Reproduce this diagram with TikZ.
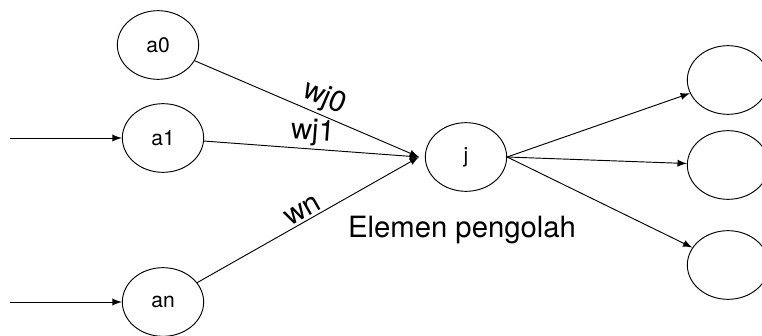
\documentclass[tikz,border=0pt]{standalone}
\usepackage{fontspec}
\setmainfont{TeX Gyre Heros}
\usepackage{tikz}
\usetikzlibrary{arrows,positioning,shapes.geometric}

\begin{document}
\begin{tikzpicture}[x=0.015cm, y=-0.015cm,
    neuron/.style={ellipse, draw=black, minimum width=1.22cm, minimum height=1.03cm, font=\fontsize{9}{10}\selectfont},
    wlabel/.style={sloped, above, inner sep=1pt, font=\fontsize{12.5}{14}\selectfont}]
  \useasboundingbox (0,0) rectangle (762,336);

  \node (a0) [neuron] at (158,45) {a0};
  \node (a1) [neuron] at (163,138) {a1};
  \node (an) [neuron] at (163,302) {an};

  \node (j) [neuron] at (466,157) {j};

  \node (o1) [neuron] at (728,80) {};
  \node (o2) [neuron] at (728,165) {};
  \node (o3) [neuron] at (728,265) {};

  \coordinate (sum) at (419,157);
  \coordinate (in1) at (10,138);
  \coordinate (in2) at (10,302);

  \node (elemen) at (462,230) {\fontsize{12.5}{14}\selectfont Elemen pengolah};

  \path [-latex] [thin]
  (in1) edge node {} (a1)
  (in2) edge node {} (an)
  (a0) edge node[wlabel, pos=0.55] {wj0} (sum)
  (a1) edge node[wlabel, pos=0.5] {wj1} (sum)
  (an) edge node[wlabel, pos=0.5] {wn} (sum)
  (j.east) edge node {} (o1)
  (j.east) edge node {} (o2)
  (j.east) edge node {} (o3);
\end{tikzpicture}
\end{document}
